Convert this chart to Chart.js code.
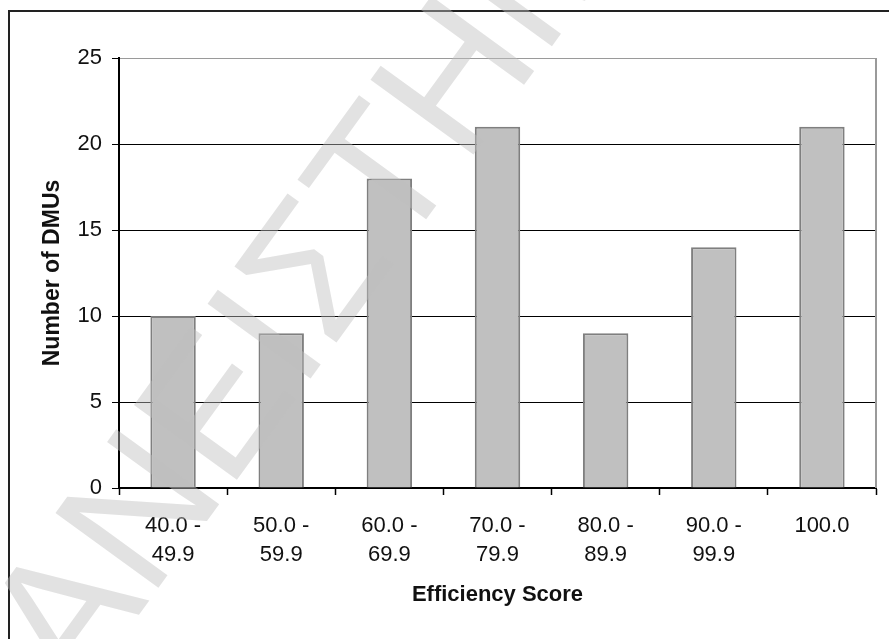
<!DOCTYPE html>
<html>
<head>
<meta charset="utf-8">
<script src="https://cdn.jsdelivr.net/npm/chart.js@4.4.0/dist/chart.umd.min.js"></script>
<style>
  html, body { margin: 0; padding: 0; background: #fff; }
  #wrap { width: 889px; height: 639px; }
</style>
</head>
<body>
<div id="wrap"><canvas id="chart"></canvas></div>
<script>
// data
const categories = [['40.0 -', '49.9'], ['50.0 -', '59.9'], ['60.0 -', '69.9'], ['70.0 -', '79.9'], ['80.0 -', '89.9'], ['90.0 -', '99.9'], '100.0'];
const dmuCounts = [10, 9, 18, 21, 9, 14, 21];
const yTicks = [0, 5, 10, 15, 20, 25];
const watermarkText = 'ΑΝΕΙΣΤΗΜΙΟ';

const family = '"Liberation Sans", Arial, sans-serif';

// outer frame, right plot border and the faint watermark
const framePlugin = {
    id: 'frame',
    beforeDraw(chart) {
        const ctx = chart.ctx;
        ctx.save();
        ctx.fillStyle = '#fff';
        ctx.fillRect(0, 0, chart.width, chart.height);
        ctx.strokeStyle = '#222';
        ctx.lineWidth = 2;
        ctx.strokeRect(9, 11, chart.width, chart.height);
        ctx.restore();
    },
    afterDatasetsDraw(chart) {
        const { ctx, chartArea: a } = chart;
        ctx.save();
        ctx.strokeStyle = '#9a9a9a';
        ctx.lineWidth = 2;
        ctx.beginPath();
        ctx.moveTo(a.right, a.top);
        ctx.lineTo(a.right, a.bottom);
        ctx.stroke();
        ctx.restore();
    },
    afterDraw(chart) {
        const ctx = chart.ctx;
        const size = 185;
        ctx.save();
        ctx.font = size + 'px ' + family;
        ctx.fillStyle = 'rgba(190,190,190,0.45)';
        // baseline start of the "Ε"
        ctx.translate(228, 492);
        ctx.rotate(-54 * Math.PI / 180);
        const pre = ctx.measureText(watermarkText.slice(0, 2)).width;
        ctx.fillText(watermarkText, -pre, 0);
        ctx.restore();
    }
};

new Chart(document.querySelector('#chart').getContext('2d'), {
    type: 'bar',
    data: {
        labels: categories,
        datasets: [{
            data: dmuCounts,
            backgroundColor: '#c0c0c0',
            borderColor: '#7f7f7f',
            borderWidth: 2,
            barPercentage: 0.42,
            categoryPercentage: 1
        }]
    },
    options: {
        responsive: true,
        maintainAspectRatio: false,
        animation: false,
        layout: { padding: { top: 58, right: 13, left: 0, bottom: 0 } },
        plugins: { legend: { display: false }, tooltip: { enabled: false } },
        scales: {
            x: {
                grid: { offset: true, drawOnChartArea: false, drawTicks: true, tickLength: 7, tickColor: '#000', tickWidth: 1.5 },
                border: { display: true, color: '#000', width: 2 },
                ticks: { color: '#111', font: { family: family, size: 22, lineHeight: 1.33 }, padding: 16, maxRotation: 0, autoSkip: false },
                title: { display: true, text: 'Efficiency Score', color: '#111', font: { family: family, size: 22, weight: 'bold' }, padding: { top: 0, bottom: 31 } },
                afterFit: s => { s.height = 151; }
            },
            y: {
                min: 0,
                max: 25,
                afterBuildTicks: s => { s.ticks = yTicks.map(v => ({ value: v })); },
                grid: {
                    color: c => (c.tick && c.tick.value === 25 ? '#9a9a9a' : '#000'),
                    lineWidth: 1,
                    tickLength: 7,
                    tickColor: '#000'
                },
                border: { color: '#000', width: 2 },
                ticks: { color: '#111', font: { family: family, size: 22 }, padding: 10 },
                title: { display: true, text: 'Number of DMUs', color: '#111', font: { family: family, size: 23, weight: 'bold' }, padding: { top: 39, bottom: 0 } },
                afterFit: s => { s.width = 119; }
            }
        }
    },
    plugins: [framePlugin]
});
</script>
</body>
</html>
